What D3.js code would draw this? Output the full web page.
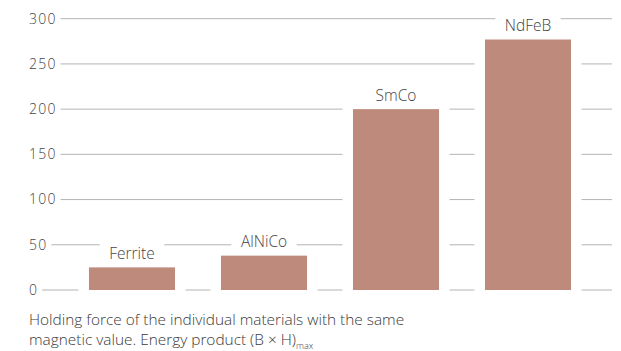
<!DOCTYPE html>
<html>
<head>
<meta charset="utf-8">
<script src="https://cdn.jsdelivr.net/npm/d3@7"></script>
<style>
  html, body { margin: 0; padding: 0; background: #fff; }
  svg { display: block; font-family: "Open Sans", sans-serif; }
</style>
</head>
<body>
<svg id="chart" width="621" height="351"></svg>
<script>
// Energy product of permanent magnet materials
const materials = ["Ferrite", "AlNiCo", "SmCo", "NdFeB"];
const energyProduct = [25, 38, 200, 277];
const yTicks = [0, 50, 100, 150, 200, 250, 300];
const captionLine1 = "Holding force of the individual materials with the same";
const captionLine2 = "magnetic value. Energy product (B × H)";
const captionSub = "max";

const svg = d3.select("#chart");
const barColor = "#bd8a7b";
const gridColor = "#b4b4b4";
const textColor = "#444";

const x = d3.scaleBand()
  .domain(materials)
  .range([66, 594])
  .paddingInner(0.348)
  .paddingOuter(0.174);

const y = d3.scaleLinear().domain([0, 300]).range([290, 18.7]);

const gridRight = 612;
const labelLeft = 29;

// tick labels and gridlines
const grid = svg.append("g");
yTicks.forEach(t => {
  const lbl = grid.append("text")
    .attr("x", labelLeft)
    .attr("y", y(t))
    .attr("dy", "0.35em")
    .attr("fill", textColor)
    .attr("font-size", 14)
    .attr("font-weight", 300)
    .attr("letter-spacing", 1.2)
    .text(t);
  const w = lbl.node().getComputedTextLength();
  grid.append("line")
    .attr("x1", labelLeft + w + 4)
    .attr("x2", gridRight)
    .attr("y1", y(t))
    .attr("y2", y(t))
    .attr("stroke", gridColor)
    .attr("stroke-width", 1);
});

const data = materials.map((m, i) => ({ name: m, value: energyProduct[i] }));

// white gaps that break the gridlines around bars and their labels
const knock = svg.append("g");
const bars = svg.append("g");
const labels = svg.append("g");

data.forEach(d => {
  const bx = x(d.name), bw = x.bandwidth();
  const top = y(d.value);
  knock.append("rect")
    .attr("x", bx - 10.5)
    .attr("y", top - 2)
    .attr("width", bw + 21)
    .attr("height", y(0) - top + 6)
    .attr("fill", "#fff");
  bars.append("rect")
    .attr("x", bx)
    .attr("y", top)
    .attr("width", bw)
    .attr("height", y(0) - top)
    .attr("fill", barColor);
  const t = labels.append("text")
    .attr("x", bx + bw / 2)
    .attr("y", top - 8.5)
    .attr("text-anchor", "middle")
    .attr("fill", textColor)
    .attr("font-size", 15.5)
    .attr("font-weight", 300)
    .text(d.name);
  const bb = t.node().getBBox();
  knock.append("rect")
    .attr("x", bb.x - 9.5)
    .attr("y", bb.y - 3)
    .attr("width", bb.width + 19)
    .attr("height", bb.height + 6)
    .attr("fill", "#fff");
});

// caption
const cap = svg.append("g")
  .attr("fill", "#3a3a3a")
  .attr("font-size", 15.4)
  .attr("font-weight", 300);
cap.append("text").attr("x", labelLeft).attr("y", 325).text(captionLine1);
const l2 = cap.append("text").attr("x", labelLeft).attr("y", 345);
l2.append("tspan").text(captionLine2);
l2.append("tspan").attr("font-size", 9).attr("dy", 4).text(captionSub);
</script>
</body>
</html>
